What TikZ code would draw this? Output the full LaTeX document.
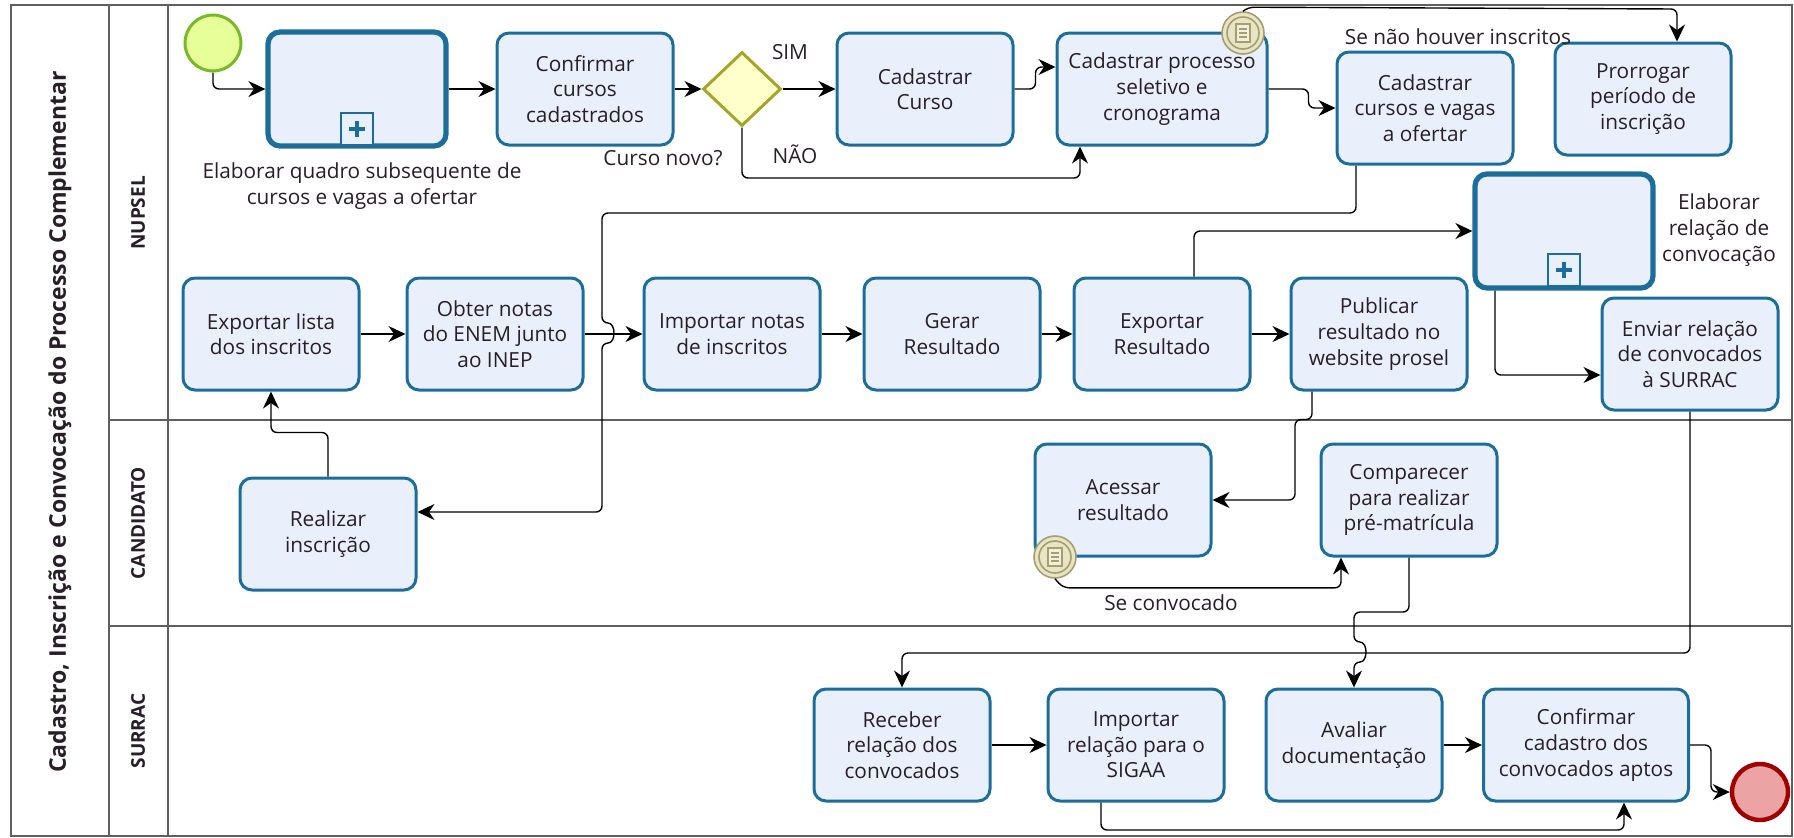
\documentclass[tikz,border=0pt]{standalone}
\usepackage{fontspec}
\setmainfont{Open Sans}
\usepackage{tikz}
\usetikzlibrary{shapes.geometric,arrows.meta}

\definecolor{taskfill}{RGB}{234,239,252}
\definecolor{taskline}{RGB}{27,110,155}
\definecolor{startfill}{RGB}{230,255,153}
\definecolor{startline}{RGB}{122,184,40}
\definecolor{gwfill}{RGB}{255,255,204}
\definecolor{gwline}{RGB}{165,165,40}
\definecolor{endfill}{RGB}{235,163,163}
\definecolor{endline}{RGB}{160,0,0}
\definecolor{evfill}{RGB}{232,228,198}
\definecolor{evline}{RGB}{163,159,110}
\definecolor{lanegray}{RGB}{95,95,95}
\definecolor{txt}{RGB}{40,30,40}

\begin{document}
\begin{tikzpicture}[%
      x=0.5pt, y=-0.5pt,
      font=\fontsize{10.4}{12.8}\selectfont,
      task/.style={rectangle, rounded corners=6pt, draw=taskline, fill=taskfill,
        line width=1.5pt, minimum width=88pt, minimum height=56pt,
        align=center, text=txt, inner sep=2pt},
      subproc/.style={task, line width=2.6pt, minimum width=89pt, minimum height=57pt},
      condev/.style={circle, draw=evline, fill=evfill, line width=0.8pt,
        minimum size=21pt, inner sep=0pt},
      flow/.style={draw=black, line width=0.7pt, rounded corners=3pt,
        -{Stealth[length=8.5pt,width=8pt]}},
      lbl/.style={text=txt},
      lane/.style={rotate=90, font=\bfseries\fontsize{9.5}{11}\selectfont, text=txt},
      ]
      \useasboundingbox (0,0) rectangle (1794,837);

      % pool and lanes
      \draw [color=lanegray, line width=0.8pt] (11,5) rectangle (1792,836);
      \draw [color=lanegray, line width=0.8pt] (109,5) -- (109,836);
      \draw [color=lanegray, line width=0.8pt] (168,5) -- (168,836);
      \draw [color=lanegray, line width=0.8pt] (109,420) -- (1792,420);
      \draw [color=lanegray, line width=0.8pt] (109,626) -- (1792,626);

      \node [rotate=90, font=\bfseries\fontsize{11.5}{14}\selectfont, text=txt] (title) at (60,422)
        {Cadastro, Inscrição e Convocação do Processo Complementar};
      \node [lane] (nupsel) at (138,213) {NUPSEL};
      \node [lane] (candidato) at (138,523) {CANDIDATO};
      \node [lane] (surrac) at (138,731) {SURRAC};

      % NUPSEL
      \node [circle, draw=startline, fill=startfill, line width=1.5pt, minimum size=28pt, inner sep=0pt] (start) at (213,43) {};
      \node [subproc] (sub1) at (357,89) {};
      \node [task] (confirmar) at (585,89) {Confirmar\\cursos\\cadastrados};
      \node [diamond, draw=gwline, fill=gwfill, line width=1.5pt, minimum width=39pt, minimum height=37pt, inner sep=0pt] (gw) at (742,89) {};
      \node [task] (cadcurso) at (925,89) {Cadastrar\\Curso};
      \node [task, minimum width=105pt] (processo) at (1162,89) {Cadastrar processo\\seletivo e\\cronograma};
      \node [task] (cadvagas) at (1425,108) {Cadastrar\\cursos e vagas\\a ofertar};
      \node [task] (prorrogar) at (1643,99) {Prorrogar\\período de\\inscrição};

      \node [task] (exportlista) at (271,334) {Exportar lista\\dos inscritos};
      \node [task] (obter) at (495,334) {Obter notas\\do ENEM junto\\ao INEP};
      \node [task] (importnotas) at (732,334) {Importar notas\\de inscritos};
      \node [task] (gerar) at (952,334) {Gerar\\Resultado};
      \node [task] (exportres) at (1162,334) {Exportar\\Resultado};
      \node [task] (publicar) at (1379,334) {Publicar\\resultado no\\website prosel};
      \node [subproc] (sub2) at (1564,231) {};
      \node [task] (enviar) at (1690,354) {Enviar relação\\de convocados\\à SURRAC};

      % CANDIDATO
      \node [task] (realizar) at (328,534) {Realizar\\inscrição};
      \node [task] (acessar) at (1123,500) {Acessar\\resultado};
      \node [task] (comparecer) at (1409,500) {Comparecer\\para realizar\\pré-matrícula};

      % SURRAC
      \node [task] (receber) at (902,745) {Receber\\relação dos\\convocados};
      \node [task] (importrel) at (1136,745) {Importar\\relação para o\\SIGAA};
      \node [task] (avaliar) at (1354,745) {Avaliar\\documentação};
      \node [task, minimum width=102.5pt] (confcad) at (1586,745) {Confirmar\\cadastro dos\\convocados aptos};
      \node [circle, draw=endline, fill=endfill, line width=2.2pt, minimum size=28pt, inner sep=0pt] (end) at (1760,792) {};

      % sub-process markers
      \draw [color=taskline, line width=1.2pt, fill=taskfill] (341,113) rectangle (373,145);
      \draw [color=taskline, line width=2.4pt] (357,121) -- (357,137);
      \draw [color=taskline, line width=2.4pt] (349,129) -- (365,129);
      \draw [color=taskline, line width=1.2pt, fill=taskfill] (1548,254) rectangle (1580,286);
      \draw [color=taskline, line width=2.4pt] (1564,262) -- (1564,278);
      \draw [color=taskline, line width=2.4pt] (1556,270) -- (1572,270);

      \node [lbl, align=center] (sub1lbl) at (362,186) {Elaborar quadro subsequente de\\cursos e vagas a ofertar};
      \node [lbl, align=center] (sub2lbl) at (1719,230) {Elaborar\\relação de\\convocação};

      % conditional boundary events
      \node [condev] (ev1) at (1243,33) {};
      \draw [color=evline, line width=0.8pt] (ev1) circle (8pt);
      \draw [color=evline, line width=0.8pt, fill=evfill!60] (1236,24) rectangle (1250,42);
      \draw [color=evline, line width=0.8pt] (1239,29) -- (1247,29);
      \draw [color=evline, line width=0.8pt] (1239,33) -- (1247,33);
      \draw [color=evline, line width=0.8pt] (1239,37) -- (1247,37);
      \node [condev] (ev2) at (1055,557) {};
      \draw [color=evline, line width=0.8pt] (ev2) circle (8pt);
      \draw [color=evline, line width=0.8pt, fill=evfill!60] (1048,548) rectangle (1062,566);
      \draw [color=evline, line width=0.8pt] (1051,553) -- (1059,553);
      \draw [color=evline, line width=0.8pt] (1051,557) -- (1059,557);
      \draw [color=evline, line width=0.8pt] (1051,561) -- (1059,561);

      % sequence flows
      \coordinate (naoturn) at (1080,178);
      \coordinate (loopturn) at (1677,9);
      \coordinate (envturn) at (902,653);
      \coordinate (sigaaturn) at (1624,830);

      \draw [flow] (start.south) |- (sub1.west);
      \draw [flow] (sub1.east) -- (confirmar.west);
      \draw [flow] (confirmar.east) -- (gw.west);
      \draw [flow] (gw.east) -- (cadcurso.west);
      \draw [flow] (gw.south) |- (naoturn) -- (naoturn |- processo.south);
      \draw [flow] (cadcurso.east) -- ++(21,0) |- ([yshift=11pt]processo.west);
      \draw [flow] (processo.east) -- ++(40,0) |- (cadvagas.west);
      \draw [flow] (ev1.north) -- ++(5,-4) -- (loopturn) -- (loopturn |- prorrogar.north);
      \draw [flow] ([xshift=-34.5pt]cadvagas.south) |- (602,213) -- (602,323)
        .. controls (616,323) and (616,343) .. (602,343) |- ([yshift=11pt]realizar.east);
      \draw [flow] (realizar.north) -- ++(0,-44) -| (exportlista.south);
      \draw [flow] (exportlista.east) -- (obter.west);
      \draw [flow] (obter.east) -- (importnotas.west);
      \draw [flow] (importnotas.east) -- (gerar.west);
      \draw [flow] (gerar.east) -- (exportres.west);
      \draw [flow] (exportres.east) -- (publicar.west);
      \draw [flow] ([xshift=16pt]exportres.north) |- (sub2.west);
      \draw [flow] ([xshift=-34.5pt]sub2.south) |- ([yshift=-10.5pt]enviar.west);
      \draw [flow] ([xshift=-33.5pt]publicar.south) -- ++(0,28) -- ++(-17,0) |- (acessar.east);
      \draw [flow] (ev2.south) -- ++(8,9) -| ([xshift=-34pt]comparecer.south);
      \draw [flow] (comparecer.south) |- (1354,612) -- (1354,642)
        .. controls (1368,642) and (1368,662) .. (1354,662) -- (avaliar.north);
      \draw [flow] (enviar.south) |- (envturn) -- (receber.north);
      \draw [flow] (receber.east) -- (importrel.west);
      \draw [flow] ([xshift=-17.5pt]importrel.south) |- (sigaaturn) -- (sigaaturn |- confcad.south);
      \draw [flow] (avaliar.east) -- (confcad.west);
      \draw [flow] (confcad.east) -- ++(21,0) |- (end.west);

      \node [lbl] (sim) at (790,52) {SIM};
      \node [lbl] (nao) at (795,154) {NÃO};
      \node [lbl] (cursonovo) at (663,158) {Curso novo?};
      \node [lbl] (senaohouver) at (1458,37) {Se não houver inscritos};
      \node [lbl] (seconvocado) at (1171,603) {Se convocado};
\end{tikzpicture}
\end{document}
